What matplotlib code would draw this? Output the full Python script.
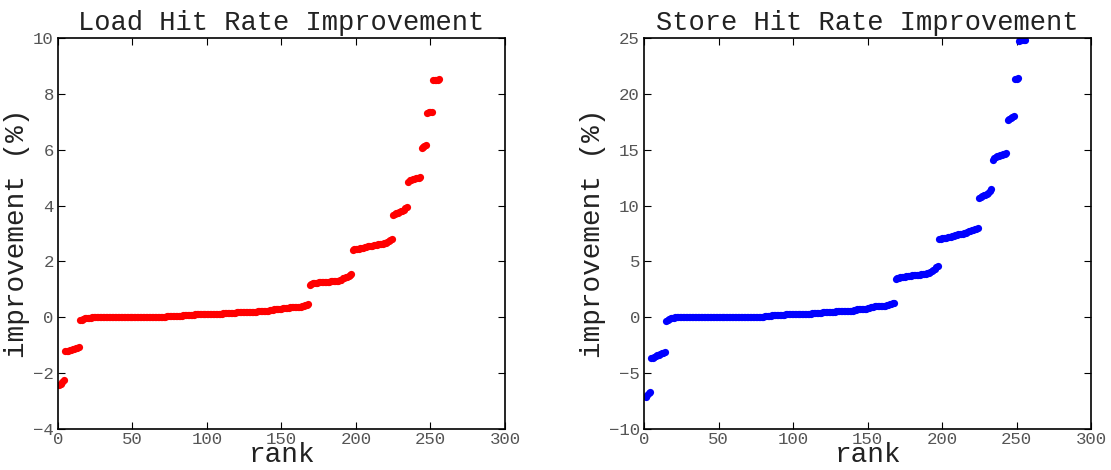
import numpy as np
import matplotlib
matplotlib.use("Agg")
import matplotlib.pyplot as plt

# sorted per-benchmark improvement (%), rank 1..256
load_improvement = [
    -2.43, -2.38, -2.31, -2.26,
    -1.22, -1.21, -1.20, -1.18, -1.16, -1.15, -1.13, -1.11, -1.09, -1.06,
    -0.10, -0.08, -0.05,
    -0.02, -0.01, -0.01, -0.01, -0.01, 0.00, 0.00, 0.00, 0.00, 0.00,
    0.00, 0.00, 0.00, 0.00, 0.00, 0.00, 0.00, 0.00, 0.00, 0.00,
    0.00, 0.00, 0.00, 0.00, 0.00, 0.01, 0.01, 0.01, 0.01, 0.01,
    0.01, 0.01, 0.01, 0.01, 0.01, 0.01, 0.01, 0.01, 0.01, 0.01,
    0.01, 0.01, 0.01, 0.01, 0.01, 0.02, 0.02, 0.02, 0.02, 0.02,
    0.02, 0.02, 0.02, 0.02, 0.02, 0.03, 0.03, 0.03, 0.03, 0.03,
    0.04, 0.04, 0.05, 0.05, 0.06, 0.06, 0.07, 0.07, 0.08, 0.08,
    0.08, 0.09, 0.09, 0.09, 0.10, 0.10, 0.10, 0.10, 0.10, 0.10,
    0.10, 0.10, 0.11, 0.11, 0.11, 0.11, 0.11, 0.12, 0.12, 0.12,
    0.12, 0.13, 0.13, 0.14, 0.14, 0.15, 0.15, 0.16, 0.16, 0.17,
    0.17, 0.17, 0.18, 0.18, 0.18, 0.18, 0.19, 0.19, 0.19, 0.19,
    0.19, 0.20, 0.20, 0.20, 0.20, 0.20, 0.21, 0.21, 0.21, 0.21,
    0.22, 0.22, 0.23, 0.24, 0.25, 0.26, 0.27, 0.28, 0.28, 0.29,
    0.30, 0.30, 0.31, 0.32, 0.33, 0.34, 0.35, 0.35, 0.36, 0.36,
    0.36, 0.37, 0.37, 0.37, 0.38, 0.38, 0.39, 0.40, 0.43, 0.45,
    0.46,
    1.15, 1.18, 1.21, 1.23, 1.24, 1.24, 1.25, 1.25, 1.26, 1.26,
    1.27, 1.27, 1.28, 1.28, 1.29, 1.29, 1.30, 1.30, 1.31, 1.31,
    1.32, 1.35, 1.39, 1.42, 1.44, 1.46, 1.48, 1.51, 1.55,
    2.42, 2.43, 2.44, 2.45, 2.46, 2.47, 2.48, 2.49, 2.50, 2.52,
    2.54, 2.55, 2.56, 2.57, 2.58, 2.59, 2.60, 2.61, 2.62, 2.63,
    2.64, 2.65, 2.67, 2.70, 2.73, 2.76, 2.79,
    3.66, 3.69, 3.72, 3.75, 3.78, 3.80, 3.82, 3.85, 3.90, 3.96,
    4.85, 4.90, 4.93, 4.95, 4.96, 4.97, 4.98, 4.99, 5.02,
    6.07, 6.10, 6.13, 6.16,
    7.33, 7.34, 7.35, 7.36,
    8.48, 8.49, 8.50, 8.51, 8.52,
]

store_improvement = [
    -7.11, -6.98, -6.82, -6.68,
    -3.68, -3.60, -3.52, -3.45, -3.40, -3.35, -3.30, -3.24, -3.17, -3.09,
    -0.30, -0.22, -0.12,
    -0.05, -0.03, -0.02, -0.01, -0.01, 0.00, 0.00, 0.00, 0.00, 0.00,
    0.00, 0.00, 0.00, 0.00, 0.00, 0.00, 0.00, 0.00, 0.00, 0.00,
    0.00, 0.00, 0.00, 0.00, 0.00, 0.01, 0.01, 0.01, 0.01, 0.01,
    0.01, 0.01, 0.01, 0.01, 0.01, 0.01, 0.01, 0.01, 0.01, 0.01,
    0.01, 0.01, 0.01, 0.01, 0.01, 0.02, 0.02, 0.02, 0.02, 0.02,
    0.02, 0.02, 0.02, 0.02, 0.02, 0.03, 0.03, 0.03, 0.03, 0.03,
    0.04, 0.05, 0.06, 0.08, 0.10, 0.12, 0.14, 0.15, 0.17, 0.18,
    0.19, 0.20, 0.21, 0.22, 0.23, 0.24, 0.24, 0.25, 0.25, 0.26,
    0.26, 0.27, 0.27, 0.28, 0.28, 0.29, 0.29, 0.30, 0.30, 0.31,
    0.31, 0.32, 0.32, 0.33, 0.33, 0.34, 0.35, 0.36, 0.38, 0.40,
    0.41, 0.42, 0.43, 0.44, 0.45, 0.46, 0.47, 0.48, 0.49, 0.50,
    0.51, 0.52, 0.53, 0.53, 0.54, 0.54, 0.55, 0.55, 0.56, 0.57,
    0.58, 0.59, 0.60, 0.62, 0.66, 0.70, 0.73, 0.74, 0.75, 0.76,
    0.77, 0.78, 0.80, 0.85, 0.90, 0.93, 0.95, 0.97, 0.98, 1.00,
    1.01, 1.02, 1.03, 1.04, 1.05, 1.08, 1.12, 1.18, 1.22, 1.26,
    1.30,
    3.42, 3.48, 3.54, 3.58, 3.61, 3.63, 3.65, 3.67, 3.69, 3.71,
    3.73, 3.75, 3.77, 3.79, 3.80, 3.81, 3.82, 3.83, 3.84, 3.86,
    3.88, 3.93, 4.00, 4.08, 4.15, 4.25, 4.35, 4.47, 4.58,
    7.03, 7.05, 7.07, 7.08, 7.10, 7.12, 7.15, 7.18, 7.22, 7.27,
    7.32, 7.37, 7.40, 7.42, 7.43, 7.44, 7.46, 7.50, 7.56, 7.62,
    7.68, 7.73, 7.78, 7.83, 7.88, 7.93, 7.98,
    10.72, 10.80, 10.88, 10.94, 10.98, 11.03, 11.12, 11.30, 11.50,
    14.12, 14.25, 14.35, 14.42, 14.48, 14.52, 14.56, 14.60, 14.65, 14.71,
    17.70, 17.75, 17.82, 17.90, 17.98,
    21.33, 21.37, 21.42,
    24.75, 24.78, 24.80, 24.82, 24.85,
]

titles = ["Load Hit Rate Improvement", "Store Hit Rate Improvement"]
ylims = [(-4, 10), (-10, 25)]
ystep = [2, 5]
colors = ["#ff0000", "#0000ff"]

plt.rcParams['font.family'] = ['Liberation Mono', 'DejaVu Sans Mono']

fig = plt.figure(figsize=(11.11, 4.70), dpi=100)
ax1 = fig.add_axes([0.0522, 0.0872, 0.4023, 0.832])
ax2 = fig.add_axes([0.5797, 0.0872, 0.4023, 0.832])

for ax, data, title, ylim, step, c in zip([ax1, ax2],
                                          [load_improvement, store_improvement],
                                          titles, ylims, ystep, colors):
    rank = np.arange(1, len(data) + 1)
    ax.plot(rank, data, 'o', color=c, ms=5.2, mec='none')
    ax.set_xlim(0, 300)
    ax.set_ylim(*ylim)
    ax.set_xticks(np.arange(0, 301, 50))
    ax.set_yticks(np.arange(ylim[0], ylim[1] + 1, step))
    ax.tick_params(direction='in', top=True, right=True, length=5, width=0.8,
                   labelsize=12.5, labelcolor='#555555')
    ax.tick_params(axis='x', pad=2.5)
    ax.tick_params(axis='y', pad=3)
    for s in ax.spines.values():
        s.set_linewidth(1.2)
    ax.set_title(title, fontsize=19.5, color='#222222', pad=6)
    ax.set_xlabel('rank', fontsize=20, color='#222222', va='bottom')
    ax.xaxis.set_label_coords(0.5, -0.100)
    ax.set_ylabel('improvement (%)', fontsize=20, color='#222222', labelpad=2)

fig.savefig('out.png', dpi=100)
